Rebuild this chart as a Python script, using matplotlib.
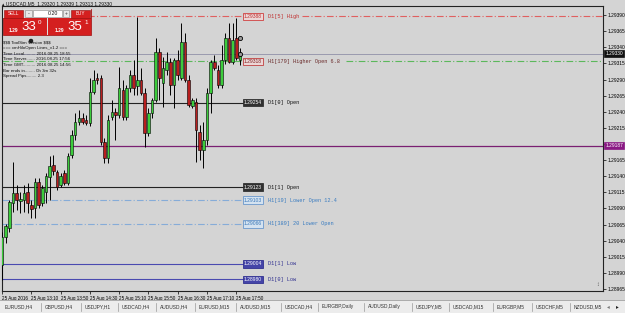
import matplotlib
matplotlib.use("Agg")
import matplotlib.pyplot as plt
import matplotlib.transforms as mtransforms
from matplotlib.patches import Rectangle, Circle
import numpy as np

plt.rcParams["text.parse_math"] = False
plt.rcParams["font.family"] = ["Liberation Sans", "DejaVu Sans"]

# USDCAD M5 bars, 25 Aug 2016 12:30 .. 17:55
opens = [1.29002, 1.29046, 1.29060, 1.29098, 1.29114, 1.29101, 1.29103, 1.29115, 1.29095, 1.29091,
         1.29131, 1.29098, 1.29115, 1.29139, 1.29157, 1.29146, 1.29126, 1.29145, 1.29129, 1.29173,
         1.29204, 1.29224, 1.29230, 1.29227, 1.29222, 1.29270, 1.29292, 1.29292, 1.29193, 1.29168,
         1.29232, 1.29239, 1.29235, 1.29274, 1.29232, 1.29277, 1.29297, 1.29280, 1.29289, 1.29269,
         1.29207, 1.29238, 1.29258, 1.29332, 1.29284, 1.29305, 1.29317, 1.29281, 1.29320, 1.29292,
         1.29348, 1.29289, 1.29249, 1.29255, 1.29208, 1.29181, 1.29196, 1.29269, 1.29317, 1.29305,
         1.29281, 1.29320, 1.29354, 1.29317, 1.29354, 1.29320]
highs = [1.29053, 1.29066, 1.29103, 1.29162, 1.29126, 1.29115, 1.29126, 1.29129, 1.29103, 1.29137,
         1.29137, 1.29126, 1.29145, 1.29171, 1.29173, 1.29150, 1.29145, 1.29150, 1.29176, 1.29212,
         1.29238, 1.29243, 1.29238, 1.29235, 1.29292, 1.29305, 1.29300, 1.29297, 1.29199, 1.29235,
         1.29258, 1.29246, 1.29309, 1.29289, 1.29281, 1.29305, 1.29320, 1.29387, 1.29308, 1.29277,
         1.29246, 1.29261, 1.29354, 1.29339, 1.29325, 1.29332, 1.29323, 1.29323, 1.29336, 1.29377,
         1.29362, 1.29297, 1.29261, 1.29261, 1.29219, 1.29224, 1.29277, 1.29320, 1.29328, 1.29312,
         1.29343, 1.29362, 1.29377, 1.29377, 1.29385, 1.29339]
lows = [1.28979, 1.29036, 1.29053, 1.29084, 1.29088, 1.29083, 1.29084, 1.29083, 1.29075, 1.29075,
        1.29091, 1.29094, 1.29098, 1.29103, 1.29142, 1.29119, 1.29123, 1.29126, 1.29126, 1.29168,
        1.29196, 1.29219, 1.29221, 1.29219, 1.29218, 1.29267, 1.29283, 1.29188, 1.29160, 1.29160,
        1.29227, 1.29196, 1.29230, 1.29227, 1.29227, 1.29270, 1.29266, 1.29266, 1.29266, 1.29185,
        1.29202, 1.29230, 1.29255, 1.29258, 1.29247, 1.29297, 1.29266, 1.29246, 1.29289, 1.29289,
        1.29286, 1.29247, 1.29246, 1.29162, 1.29165, 1.29153, 1.29188, 1.29238, 1.29305, 1.29277,
        1.29277, 1.29314, 1.29315, 1.29314, 1.29320, 1.29313]
closes = [1.29046, 1.29063, 1.29100, 1.29114, 1.29103, 1.29105, 1.29114, 1.29098, 1.29089, 1.29131,
          1.29095, 1.29122, 1.29140, 1.29156, 1.29148, 1.29123, 1.29140, 1.29129, 1.29171, 1.29204,
          1.29224, 1.29230, 1.29224, 1.29222, 1.29270, 1.29289, 1.29289, 1.29193, 1.29168, 1.29227,
          1.29239, 1.29235, 1.29277, 1.29232, 1.29277, 1.29297, 1.29277, 1.29289, 1.29269, 1.29207,
          1.29238, 1.29258, 1.29332, 1.29292, 1.29308, 1.29317, 1.29281, 1.29320, 1.29297, 1.29348,
          1.29289, 1.29250, 1.29258, 1.29212, 1.29181, 1.29196, 1.29269, 1.29317, 1.29308, 1.29281,
          1.29320, 1.29354, 1.29317, 1.29351, 1.29323, 1.29330]

time_labels = ["25 Aug 2016", "25 Aug 13:10", "25 Aug 13:50", "25 Aug 14:30", "25 Aug 15:10",
               "25 Aug 15:50", "25 Aug 16:30", "25 Aug 17:10", "25 Aug 17:50"]
time_label_bars = [0, 8, 16, 24, 32, 40, 48, 56, 64]

price_ticks = [1.28965, 1.28990, 1.29015, 1.29040, 1.29065, 1.29090, 1.29115, 1.29140, 1.29165,
               1.29190, 1.29215, 1.29240, 1.29265, 1.29290, 1.29315, 1.29340, 1.29365, 1.29390]

level_names = ["D1[5] High", "H1[179] Higher Open 6.8", "D1[0] Open", "D1[1] Open",
               "H1[19] Lower Open 12.4", "H1[389] 20 Lower Open", "D1[1] Low", "D1[0] Low"]
level_prices = [1.29388, 1.29318, 1.29254, 1.29123, 1.29103, 1.29066, 1.29004, 1.28980]

bid_price = 1.29330
alert_price = 1.29187
trade_marks = [1.29354, 1.29330]

title = "USDCAD,M5  1.29320 1.29339 1.29313 1.29330"
info_lines = ["$$$ ToolSim Version $$$", "=== xmHiloOpen Lines_v1.2 ===",
              "Time Local......... 2016.08.25 18:55", "Time Server....... 2016.08.25 17:56",
              "Time GMT.......... 2016.08.25 14:56", "Bar ends in........ 0h 3m 32s",
              "Spread Pips........ 2.3"]
tabs = ["EURUSD,H4", "GBPUSD,H4", "USDJPY,H1", "USDCAD,H4", "AUDUSD,H4", "EURUSD,M15",
        "AUDUSD,M15", "USDCAD,H4", "EURGBP,Daily", "AUDUSD,Daily", "USDJPY,M5", "USDCAD,M15",
        "EURGBP,M5", "USDCHF,M5", "NZDUSD,M5"]

BG = "#d4d4d4"
W, H = 625, 313
fig = plt.figure(figsize=(W / 100, H / 100), dpi=100, facecolor=BG)
ax = fig.add_axes([2 / W, 1 - 291 / H, 601 / W, 285 / H], facecolor=BG)

PX = 601 / 164.2  # pixels per bar


def bx(px):
    return (px - 2) / PX


o = np.array(opens)
h = np.array(highs)
l = np.array(lows)
c = np.array(closes)
x = np.arange(len(o))
up = c >= o
ax.vlines(x, l, h, color="black", lw=0.7, zorder=3)
ax.bar(x[up], np.maximum((c - o)[up], 0.000015), bottom=o[up], width=0.7,
       color="#3ccc3c", edgecolor="black", lw=0.4, zorder=4)
ax.bar(x[~up], (o - c)[~up], bottom=c[~up], width=0.7,
       color="#b81e1e", edgecolor="black", lw=0.4, zorder=4)

# bid line and the purple line across the whole chart
ax.axhline(bid_price, color="#9a9aae", lw=0.7, zorder=1)
ax.axhline(alert_price, color="#7a1f72", lw=0.9, zorder=1)

dd = (0, (6, 2, 1, 2))
# line color, dash, box face, box edge, box text, label color, restart px
styles = [
    ("#e06060", dd, "#ecd6d6", "#d04040", "#c03030", "#c03030", 302),
    ("#5cb85c", dd, "#ecd6d6", "#c04040", "#802020", "#6a2a2a", 346),
    ("#222222", "-", "#303030", "#303030", "white", "#111111", None),
    ("#222222", "-", "#303030", "#303030", "white", "#111111", None),
    ("#86acd8", dd, "#d4e2f0", "#6a98cc", "#3a78b8", "#3a7cc0", None),
    ("#86acd8", dd, "#d4e2f0", "#6a98cc", "#3a78b8", "#3a7cc0", None),
    ("#4a4ab0", "-", "#4444a8", "#303090", "white", "#303090", None),
    ("#4a4ab0", "-", "#4444a8", "#303090", "white", "#303090", None),
]
for name, price, st in zip(level_names, level_prices, styles):
    col, ls, face, edge, tcol, lcol, restart = st
    ax.plot([0, bx(243)], [price, price], color=col, ls=ls, lw=0.8, zorder=2)
    if restart:
        ax.plot([bx(restart), bx(603)], [price, price], color=col, ls=ls, lw=0.8, zorder=2)
    ax.text(bx(253), price, f"{price:.5f}", fontsize=3.6, color=tcol, ha="center", va="center",
            zorder=6, bbox=dict(boxstyle="square,pad=0.25", fc=face, ec=edge, lw=0.6))
    ax.text(bx(268), price, name, fontsize=3.8, color=lcol, ha="left", va="center",
            family="Liberation Mono", zorder=6)

ax.scatter([len(o) - 1 + 0.1] * len(trade_marks), trade_marks, s=9, facecolor="#9a9a9a",
           edgecolor="black", lw=0.6, marker="o", zorder=7)

ax.set_xlim(0, 164.2)
ax.set_ylim(1.28962, 1.29404)
ax.yaxis.tick_right()
ax.set_yticks(price_ticks)
# the scale label under the alert box is hidden by it, as in the terminal
ax.set_yticklabels(["" if abs(p - alert_price) < 0.0001 else f"{p:.5f}" for p in price_ticks])
ax.tick_params(axis="y", direction="out", length=2, width=0.5, labelsize=3.5, pad=1)
ax.set_xticks(time_label_bars)
ax.set_xticklabels(time_labels)
ax.tick_params(axis="x", direction="out", length=2.5, width=0.5, labelsize=3.3, pad=1)
for t in ax.get_xticklabels():
    t.set_ha("left")
for side in ["left", "right", "top", "bottom"]:
    ax.spines[side].set_linewidth(0.8)
    ax.spines[side].set_color("#222222")

# price boxes on the right scale
trans = mtransforms.blended_transform_factory(ax.transAxes, ax.transData)
ax.text(1.004, bid_price, f"{bid_price:.5f}", transform=trans, fontsize=3.5, color="white",
        ha="left", va="center", zorder=8, clip_on=False,
        bbox=dict(boxstyle="square,pad=0.2", fc="#111111", ec="#111111", lw=0.5))
ax.text(1.004, alert_price, f"{alert_price:.5f}", transform=trans, fontsize=3.5, color="white",
        ha="left", va="center", zorder=8, clip_on=False,
        bbox=dict(boxstyle="square,pad=0.2", fc="#8a1a84", ec="#8a1a84", lw=0.5))

# overlay in pixel coordinates for the terminal furniture
ov = fig.add_axes([0, 0, 1, 1], zorder=10)
ov.set_xlim(0, W)
ov.set_ylim(H, 0)
ov.axis("off")
ov.patch.set_alpha(0)

ov.text(2, 3.5, "\u25b4 " + title, fontsize=3.5, color="#111111", va="center", ha="left")

# one-click trading panel
ov.add_patch(Rectangle((3, 9), 88, 26, fc="#d41f1f", ec="#a01010", lw=0.5))
ov.add_patch(Rectangle((3, 9), 88, 9, fc="#dddddd", ec="none"))
ov.add_patch(Rectangle((4, 9.5), 19, 8, fc="#d41f1f", ec="#901010", lw=0.4))
ov.add_patch(Rectangle((71, 9.5), 19, 8, fc="#d41f1f", ec="#901010", lw=0.4))
ov.add_patch(Rectangle((25, 10), 7, 7, fc="#e8e8e8", ec="#888888", lw=0.4))
ov.add_patch(Rectangle((33, 10), 29, 7, fc="white", ec="#888888", lw=0.4))
ov.add_patch(Rectangle((63, 10), 6, 7, fc="#e8e8e8", ec="#888888", lw=0.4))
ov.add_patch(Rectangle((46.5, 18), 1.5, 17, fc="#dddddd", ec="none"))
ov.text(13.5, 13.7, "SELL", fontsize=3.3, color="white", ha="center", va="center")
ov.text(80.5, 13.7, "BUY", fontsize=3.3, color="white", ha="center", va="center")
ov.text(28.5, 13.5, "-", fontsize=4, color="#333333", ha="center", va="center")
ov.text(66, 13.5, "+", fontsize=3.5, color="#333333", ha="center", va="center")
ov.text(58, 13.7, "0.20", fontsize=3.8, color="#111111", ha="right", va="center")
ov.text(9, 30, "1.29", fontsize=3.5, color="white", ha="left", va="center", weight="bold")
ov.text(21, 27.5, "33", fontsize=9.5, color="white", ha="left", va="center")
ov.text(38, 22.5, "0", fontsize=4.5, color="white", ha="left", va="center")
ov.text(55, 30, "1.29", fontsize=3.5, color="white", ha="left", va="center", weight="bold")
ov.text(67, 27.5, "35", fontsize=9.5, color="white", ha="left", va="center")
ov.text(84, 22.5, "1", fontsize=4.5, color="white", ha="left", va="center")

for k, line in enumerate(info_lines):
    ov.text(3, 43 + k * 5.5, line, fontsize=3.2, color="#111111", ha="left", va="center")
ov.add_patch(Circle((31, 41), 2, fc="#222222", ec="black", lw=0.3))
ov.text(598, 285, "\u2195", fontsize=4, color="#555555", ha="center", va="center")

# terminal tabs along the bottom
ov.add_patch(Rectangle((0, 300), W, 13, fc="#ececec", ec="none"))
ov.plot([0, W], [300, 300], color="#a0a0a0", lw=0.6)
tab_x = [5, 45, 85, 122, 160, 199, 240, 285, 322, 368, 416, 453, 497, 536, 574]
for tx, name in zip(tab_x, tabs):
    ov.text(tx, 306.5, name, fontsize=3.5, color="#333333", ha="left", va="center")
    if tx > 5:
        ov.plot([tx - 4, tx - 4], [302.5, 310.5], color="#9a9a9a", lw=0.5)
ov.text(608, 306.5, "\u25c2", fontsize=4, color="#777777", ha="center", va="center",
        family="DejaVu Sans")
ov.text(617, 306.5, "\u25b8", fontsize=4, color="#222222", ha="center", va="center",
        family="DejaVu Sans")

fig.savefig("out.png", dpi=100, facecolor=BG)
